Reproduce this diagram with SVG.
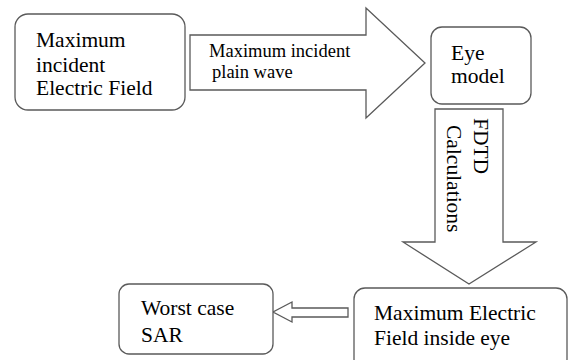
<svg xmlns="http://www.w3.org/2000/svg" width="569" height="360" viewBox="0 0 569 360" font-family="'Liberation Serif', 'DejaVu Serif', 'Times New Roman', serif">
<style>
.box{fill:#fff;stroke:#5a5a5a;stroke-width:1.3}
.arr{fill:#fff;stroke:#5a5a5a;stroke-width:1.3;stroke-linejoin:miter}
text{font-family:'Liberation Serif','DejaVu Serif','Times New Roman',serif;fill:#000}
.t{font-size:21.5px}
.s{font-size:18.5px}
</style>
<rect width="569" height="360" fill="#fff"/>
<g id="connectors">
<polygon class="arr" points="190,35 366,35 366,8 425,63 366,118 366,90 190,90"/>
<text class="s" x="209" y="57">Maximum incident</text>
<text class="s" x="212" y="78">plain wave</text>
<polygon class="arr" points="435,109 503,109 503,242 536,242 469,284 403,242 435,242"/>
<text class="t" transform="translate(474,118) rotate(90)">FDTD</text>
<text class="t" transform="translate(447,125) rotate(90)">Calculations</text>
<polygon class="arr" points="348,308 292,308 292,302 273,312 292,322 292,317 348,317"/>
</g>
<g id="n1">
<rect class="box" x="15" y="14" width="170" height="96" rx="13"/>
<text class="t" x="36" y="47">Maximum</text>
<text class="t" x="36" y="72">incident</text>
<text class="t" x="36" y="95">Electric Field</text>
</g>
<g id="n2">
<rect class="box" x="431" y="27" width="100" height="77" rx="11"/>
<text class="t" x="451" y="60">Eye</text>
<text class="t" x="451" y="83">model</text>
</g>
<g id="n3">
<rect class="box" x="354" y="288" width="213" height="82" rx="11"/>
<text class="t" x="374" y="320">Maximum Electric</text>
<text class="t" x="374" y="345">Field inside eye</text>
</g>
<g id="n4">
<rect class="box" x="119" y="284" width="154" height="70" rx="10"/>
<text class="t" x="141" y="315">Worst case</text>
<text class="t" x="141" y="342">SAR</text>
</g>
</svg>
